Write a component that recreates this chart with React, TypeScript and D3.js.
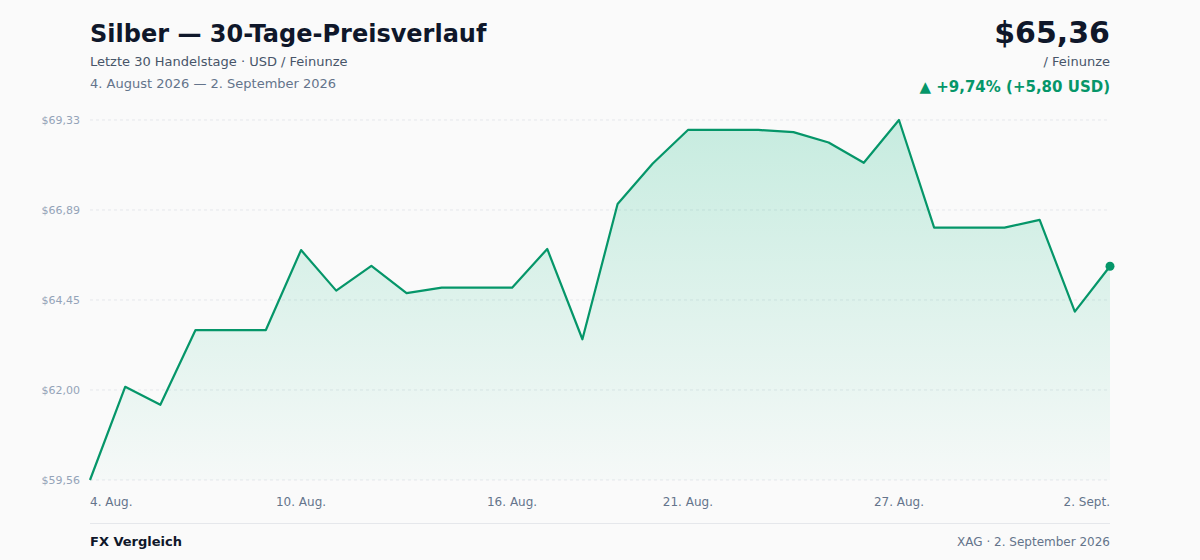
import React, { useEffect, useRef } from 'react';
import * as d3 from 'd3';

// 30 Handelstage, 4. Aug. – 2. Sept. 2026 (USD je Feinunze)
const days = d3.range(30);
const prices = [
  59.56, 62.09, 61.6, 63.63, 63.63, 63.63, 65.8, 64.7, 65.37, 64.63,
  64.78, 64.78, 64.78, 65.83, 63.38, 67.05, 68.15, 69.06, 69.06, 69.06,
  69.0, 68.72, 68.17, 69.33, 66.41, 66.41, 66.41, 66.62, 64.13, 65.36,
];
const xTickIndex = [0, 6, 12, 17, 23, 29];
const xTickLabels = ['4. Aug.', '10. Aug.', '16. Aug.', '21. Aug.', '27. Aug.', '2. Sept.'];

const fmt = (v: number) => (Math.round(v * 100 + 1e-6) / 100).toFixed(2).replace('.', ',');

export default function App() {
  const svgRef = useRef<SVGSVGElement>(null);

  useEffect(() => {
    if (!svgRef.current) return;
    const svg = d3.select(svgRef.current);
    svg.selectAll('*').remove();

    const W = 1200;
    const H = 560;
    const left = 90;
    const right = 1110;
    const top = 120;
    const bottom = 480;
    const font = '"DejaVu Sans", Verdana, sans-serif';
    const green = '#059669';

    svg.append('rect').attr('width', W).attr('height', H).attr('fill', '#fafafa');

    const x = d3.scaleLinear().domain([0, days.length - 1]).range([left, right]);
    const [minP, maxP] = d3.extent(prices) as [number, number];
    const y = d3.scaleLinear().domain([minP, maxP]).range([bottom, top]);
    const yTicks = d3.range(5).map(i => minP + (i * (maxP - minP)) / 4);

    // gradient for area
    const defs = svg.append('defs');
    const grad = defs.append('linearGradient')
      .attr('id', 'areaFill')
      .attr('x1', 0).attr('y1', 0).attr('x2', 0).attr('y2', 1);
    grad.append('stop').attr('offset', '0%').attr('stop-color', '#10b981').attr('stop-opacity', 0.22);
    grad.append('stop').attr('offset', '100%').attr('stop-color', '#10b981').attr('stop-opacity', 0.02);

    // header
    svg.append('text')
      .attr('x', left).attr('y', 42)
      .attr('font-family', font).attr('font-size', 24).attr('font-weight', 'bold')
      .attr('fill', '#0f172a')
      .text('Silber — 30-Tage-Preisverlauf');
    svg.append('text')
      .attr('x', left).attr('y', 66)
      .attr('font-family', font).attr('font-size', 13)
      .attr('fill', '#475569')
      .text('Letzte 30 Handelstage · USD / Feinunze');
    svg.append('text')
      .attr('x', left).attr('y', 88)
      .attr('font-family', font).attr('font-size', 13)
      .attr('fill', '#64748b')
      .text('4. August 2026 — 2. September 2026');

    const last = prices[prices.length - 1];
    const diff = last - prices[0];
    const pct = (diff / prices[0]) * 100;

    svg.append('text')
      .attr('x', right).attr('y', 43).attr('text-anchor', 'end')
      .attr('font-family', font).attr('font-size', 30).attr('font-weight', 'bold')
      .attr('fill', '#0f172a')
      .text(`$${fmt(last)}`);
    svg.append('text')
      .attr('x', right).attr('y', 66).attr('text-anchor', 'end')
      .attr('font-family', font).attr('font-size', 13)
      .attr('fill', '#475569')
      .text('/ Feinunze');
    svg.append('text')
      .attr('x', right).attr('y', 92).attr('text-anchor', 'end')
      .attr('font-family', font).attr('font-size', 15).attr('font-weight', 'bold')
      .attr('fill', green)
      .text(`▲ +${fmt(pct)}% (+${fmt(diff)} USD)`);

    // grid + y labels
    const grid = svg.append('g');
    yTicks.forEach(t => {
      grid.append('line')
        .attr('x1', left).attr('x2', right)
        .attr('y1', y(t)).attr('y2', y(t))
        .attr('stroke', '#e5e7eb').attr('stroke-width', 1)
        .attr('stroke-dasharray', '3,3');
      grid.append('text')
        .attr('x', left - 10).attr('y', y(t)).attr('dy', '0.35em')
        .attr('text-anchor', 'end')
        .attr('font-family', font).attr('font-size', 11)
        .attr('fill', '#94a3b8')
        .text(`$${fmt(t)}`);
    });

    // area + line
    const area = d3.area<number>()
      .x((_, i) => x(days[i]))
      .y0(bottom)
      .y1(d => y(d));
    svg.append('path')
      .datum(prices)
      .attr('d', area)
      .attr('fill', 'url(#areaFill)');

    const line = d3.line<number>()
      .x((_, i) => x(days[i]))
      .y(d => y(d));
    svg.append('path')
      .datum(prices)
      .attr('d', line)
      .attr('fill', 'none')
      .attr('stroke', green)
      .attr('stroke-width', 2.2)
      .attr('stroke-linejoin', 'round');

    svg.append('circle')
      .attr('cx', x(days[days.length - 1]))
      .attr('cy', y(last))
      .attr('r', 4.5)
      .attr('fill', green);

    // x labels
    xTickIndex.forEach((idx, i) => {
      const anchor = i === 0 ? 'start' : i === xTickIndex.length - 1 ? 'end' : 'middle';
      svg.append('text')
        .attr('x', x(idx)).attr('y', 506)
        .attr('text-anchor', anchor)
        .attr('font-family', font).attr('font-size', 12)
        .attr('fill', '#64748b')
        .text(xTickLabels[i]);
    });

    // footer
    svg.append('line')
      .attr('x1', left).attr('x2', right)
      .attr('y1', 523.5).attr('y2', 523.5)
      .attr('stroke', '#e5e7eb').attr('stroke-width', 1);
    svg.append('text')
      .attr('x', left).attr('y', 546)
      .attr('font-family', font).attr('font-size', 13).attr('font-weight', 'bold')
      .attr('fill', '#0f172a')
      .text('FX Vergleich');
    svg.append('text')
      .attr('x', right).attr('y', 546).attr('text-anchor', 'end')
      .attr('font-family', font).attr('font-size', 12)
      .attr('fill', '#64748b')
      .text('XAG · 2. September 2026');
  }, []);

  return (
    <>
      <style>{'body{margin:0;}'}</style>
      <svg ref={svgRef} width={1200} height={560} style={{ display: 'block' }} />
    </>
  );
}
